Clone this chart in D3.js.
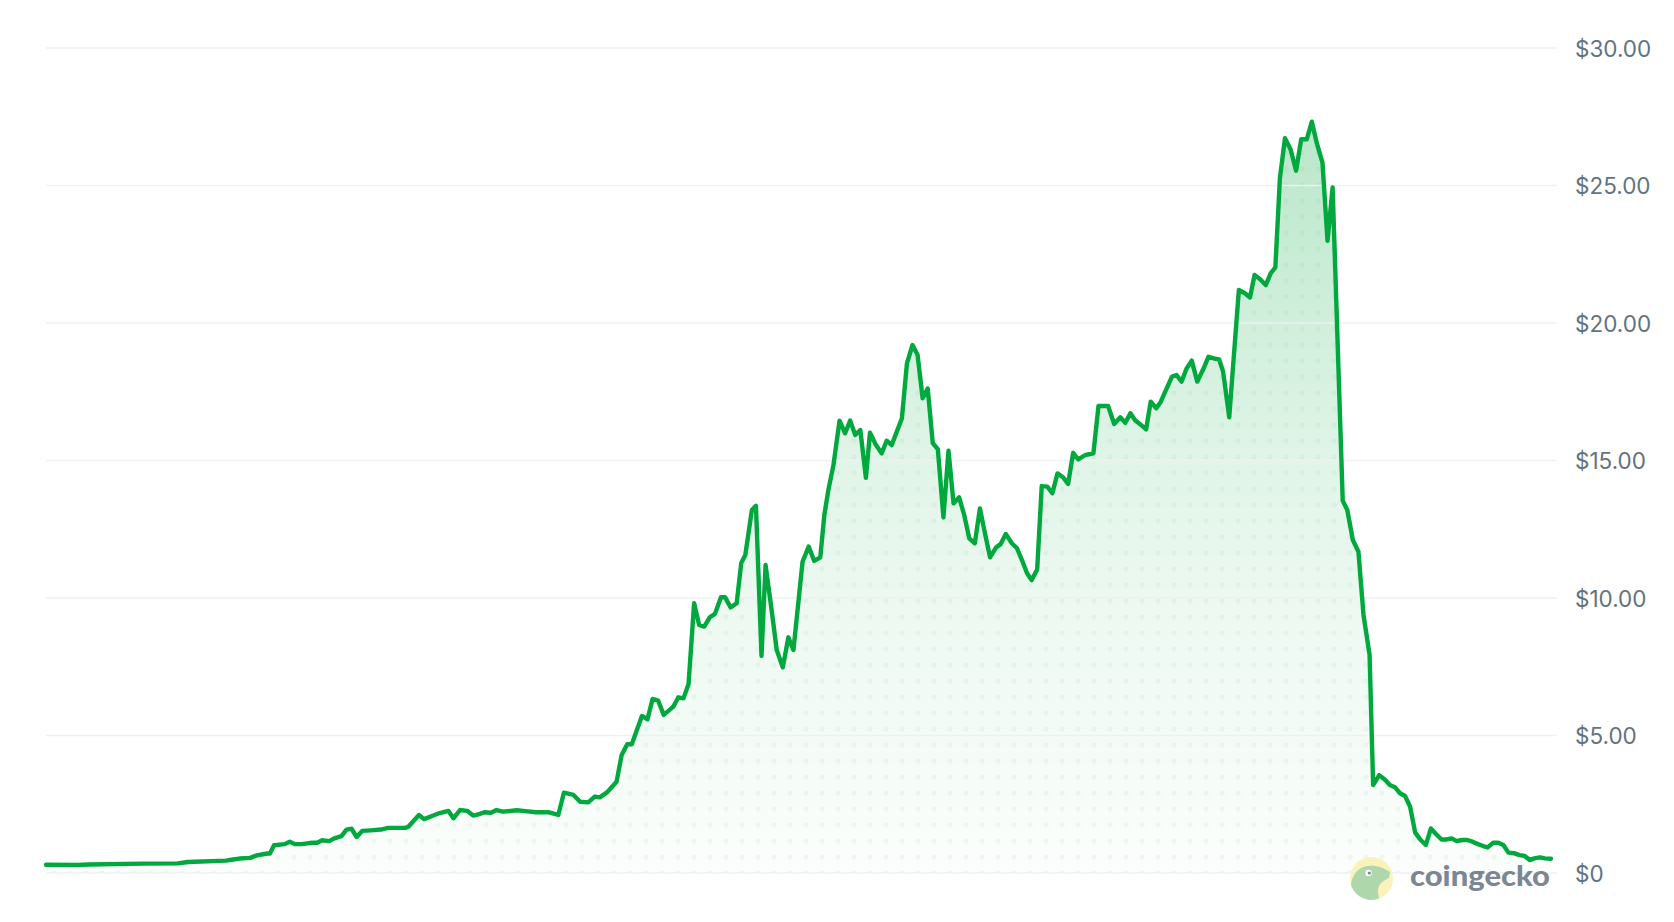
<!DOCTYPE html>
<html>
<head>
<meta charset="utf-8">
<script src="https://cdn.jsdelivr.net/npm/d3@7"></script>
<style>
  html, body { margin: 0; padding: 0; background: #ffffff; }
  svg { display: block; }
</style>
</head>
<body>
<svg id="chart" width="1674" height="922"></svg>
<script>
// ---- data (day offset from start, price in USD) ----
const days = [
  0.0, 6.3, 8.3, 19.2, 26.0, 28.0, 35.5, 36.9, 38.2, 40.3, 41.6, 43.7, 44.2, 45.0, 47.1, 48.1, 49.1, 50.5,
  52.5, 53.5, 54.5, 55.9, 56.9, 58.3, 59.3, 60.3, 61.3, 62.4, 64.1, 66.1, 67.5, 70.9, 71.5, 73.6, 74.6, 76.3,
  77.7, 79.4, 80.4, 81.7, 83.1, 84.3, 85.5, 86.5, 87.8, 88.9, 90.2, 92.9, 94.6, 96.7, 99.1, 101.1, 102.2, 104.1,
  105.4, 107.0, 108.3, 109.3, 110.7, 112.6, 113.6, 114.7, 115.6, 117.6, 118.7, 119.7, 120.8, 121.9, 123.8, 124.8,
  125.8, 126.8, 127.9, 128.9, 129.9, 131.0, 132.0, 133.2, 134.0, 135.1, 136.3, 137.2, 138.0, 139.3, 140.1, 141.2,
  142.0, 143.3, 144.2, 145.4, 146.5, 147.5, 149.3, 150.5, 151.6, 152.8, 153.6, 154.4, 155.4, 156.6, 157.7, 158.7,
  159.7, 160.7, 161.8, 162.6, 163.8, 164.9, 165.9, 166.9, 167.9, 168.9, 169.9, 171.0, 172.0, 173.0, 174.0, 175.0,
  176.0, 177.1, 178.1, 179.1, 180.2, 181.2, 182.2, 183.3, 184.3, 185.3, 186.3, 187.5, 188.4, 189.4, 190.6, 191.6,
  192.6, 193.6, 194.5, 195.6, 196.5, 197.6, 198.6, 199.6, 200.7, 201.7, 202.7, 203.7, 205.1, 206.7, 207.7, 209.6,
  210.8, 212.0, 213.0, 214.0, 214.9, 215.9, 217.1, 218.0, 219.1, 220.0, 221.0, 222.2, 223.1, 224.1, 225.1, 226.1,
  227.2, 228.3, 229.4, 230.5, 231.5, 232.3, 233.5, 234.3, 235.4, 236.6, 237.6, 238.5, 239.6, 240.7, 241.7, 242.6,
  243.5, 244.5, 245.6, 246.7, 247.7, 248.8, 249.8, 250.8, 251.9, 252.9, 253.9, 255.9, 256.8, 257.9, 259.0, 260.0,
  261.2, 261.9, 263.1, 264.3, 265.2, 266.2, 267.2, 268.2, 269.2, 270.2, 271.2, 272.3, 273.3, 274.3, 275.4, 276.4,
  277.4, 278.4, 279.4, 280.5, 281.5, 282.6, 283.6, 284.5, 285.6, 286.6, 287.6, 288.6, 289.7, 290.8, 291.8, 292.8,
  293.7, 294.8, 295.8, 297.0
];
const prices = [
  0.30, 0.29, 0.31, 0.34, 0.35, 0.40, 0.45, 0.49, 0.525, 0.55, 0.64, 0.71, 0.71, 1.01, 1.05, 1.14, 1.05, 1.05,
  1.10, 1.10, 1.19, 1.16, 1.26, 1.34, 1.58, 1.61, 1.31, 1.53, 1.55, 1.58, 1.64, 1.64, 1.68, 2.11, 1.96, 2.08,
  2.18, 2.26, 1.99, 2.29, 2.26, 2.09, 2.14, 2.21, 2.19, 2.29, 2.23, 2.28, 2.25, 2.21, 2.21, 2.11, 2.92, 2.84,
  2.59, 2.57, 2.78, 2.75, 2.93, 3.32, 4.29, 4.68, 4.68, 5.71, 5.59, 6.33, 6.27, 5.75, 6.05, 6.39,
  6.35, 6.87, 9.81, 9.02, 8.96, 9.30, 9.42, 10.03, 10.03, 9.66, 9.81, 11.27, 11.56, 13.20, 13.35, 7.89,
  11.20, 9.42, 8.11, 7.48, 8.57, 8.11, 11.32, 11.87, 11.35, 11.48, 13.02, 13.93, 14.84, 16.45, 15.99, 16.45,
  15.93, 16.11, 14.37, 16.01, 15.56, 15.26, 15.72, 15.56, 16.05, 16.53, 18.53, 19.20, 18.84, 17.26, 17.62, 15.63,
  15.41, 12.93, 15.36, 13.44, 13.66, 13.02, 12.17, 11.99, 13.26, 12.35, 11.48, 11.84, 11.96, 12.33, 11.99, 11.81,
  11.38, 10.90, 10.65, 11.04, 14.07, 14.05, 13.81, 14.53, 14.39, 14.15, 15.28, 15.04, 15.20, 15.26, 16.98, 16.98,
  16.33, 16.57, 16.37, 16.72, 16.47, 16.32, 16.13, 17.14, 16.90, 17.14, 17.56, 18.05, 18.11, 17.87, 18.35, 18.63,
  17.87, 18.29, 18.77, 18.71, 18.68, 18.23, 16.57, 18.53, 21.20, 21.08, 20.93, 21.75, 21.59, 21.38, 21.81, 22.02,
  25.26, 26.72, 26.32, 25.54, 26.68, 26.68, 27.32, 26.53, 25.83, 22.99, 24.93, 13.54, 13.20, 12.11, 11.68, 9.38,
  7.93, 3.20, 3.56, 3.38, 3.20, 3.12, 2.90, 2.80, 2.41, 1.47, 1.22, 1.02, 1.62, 1.42, 1.22, 1.22,
  1.26, 1.16, 1.20, 1.20, 1.14, 1.05, 0.98, 0.93, 1.10, 1.10, 1.02, 0.74, 0.72, 0.65, 0.62, 0.47,
  0.53, 0.57, 0.53, 0.52
];
const yTicks = [0, 5, 10, 15, 20, 25, 30];
const tickLabels = ["$0", "$5.00", "$10.00", "$15.00", "$20.00", "$25.00", "$30.00"];

const data = days.map((d, i) => ({ d, v: prices[i] }));

const svg = d3.select("#chart");
const GREEN = "#00a83e";

const x = d3.scaleLinear().domain([0, 297]).range([46, 1551]);
const y = d3.scaleLinear().domain([0, 30]).range([873, 48]);

const defs = svg.append("defs");
const grad = defs.append("linearGradient")
  .attr("id", "areaGrad")
  .attr("gradientUnits", "userSpaceOnUse")
  .attr("x1", 0).attr("x2", 0)
  .attr("y1", y(d3.max(prices))).attr("y2", y(0));
[[0, 0.27], [0.1, 0.24], [0.45, 0.12], [0.65, 0.07], [1, 0.015]].forEach(([o, a]) => {
  grad.append("stop").attr("offset", o).attr("stop-color", GREEN).attr("stop-opacity", a);
});

const pat = defs.append("pattern")
  .attr("id", "dots")
  .attr("patternUnits", "userSpaceOnUse")
  .attr("x", 46).attr("y", 865)
  .attr("width", 16).attr("height", 16);
pat.append("circle").attr("cx", 8).attr("cy", 8).attr("r", 2.6)
  .attr("fill", GREEN).attr("fill-opacity", 0.06);

const area = d3.area()
  .x(p => x(p.d))
  .y0(y(0))
  .y1(p => y(p.v));

svg.append("path").datum(data).attr("d", area).attr("fill", "url(#areaGrad)");
svg.append("path").datum(data).attr("d", area).attr("fill", "url(#dots)");

// gridlines
svg.append("g").selectAll("line").data(yTicks).join("line")
  .attr("x1", 46).attr("x2", 1557)
  .attr("y1", d => y(d)).attr("y2", d => y(d))
  .attr("stroke", "#eef2f1").attr("stroke-width", 1.3);

const line = d3.line().x(p => x(p.d)).y(p => y(p.v));
svg.append("path").datum(data)
  .attr("d", line)
  .attr("fill", "none")
  .attr("stroke", GREEN)
  .attr("stroke-width", 4.4)
  .attr("stroke-linejoin", "round")
  .attr("stroke-linecap", "round");

// y axis labels on the right
const axis = d3.axisRight(y)
  .tickValues(yTicks)
  .tickSize(0)
  .tickPadding(0)
  .tickFormat((d, i) => tickLabels[i]);
const axG = svg.append("g").attr("transform", "translate(1575,0)").call(axis);
axG.select(".domain").remove();
axG.selectAll("text")
  .attr("font-family", "Inter, 'Noto Sans', sans-serif")
  .attr("font-size", 22.5)
  .attr("fill", "#627380")
  .attr("dy", "0.36em");

// coingecko watermark
const logo = svg.append("g").attr("opacity", 0.9);
const cx = 1371.5, cy = 878.5, r = 21.5;
defs.append("clipPath").attr("id", "logoClip")
  .append("circle").attr("cx", cx).attr("cy", cy).attr("r", r);
logo.append("circle").attr("cx", cx).attr("cy", cy).attr("r", r).attr("fill", "#fcf1b4");
logo.append("path")
  .attr("clip-path", "url(#logoClip)")
  .attr("d", "M1350,902 L1351,884 C1353,873 1359,867 1368,866 C1377,865 1384,868 1390,872 L1389,878 C1385,880 1381,882 1379,886 C1377,890 1378,896 1381,903 Z")
  .attr("fill", "#a6d4a3");
logo.append("circle").attr("cx", 1368.5).attr("cy", 873).attr("r", 3.2).attr("fill", "#ffffff");
logo.append("circle").attr("cx", 1369.3).attr("cy", 873).attr("r", 1.6).attr("fill", "#6b7785");
logo.append("text")
  .attr("x", 1410).attr("y", 886)
  .attr("font-family", "Lato, 'Open Sans', sans-serif")
  .attr("font-weight", 900)
  .attr("font-size", 28)
  .attr("textLength", 140)
  .attr("lengthAdjust", "spacingAndGlyphs")
  .attr("fill", "#6f7a88")
  .text("coingecko");
</script>
</body>
</html>
